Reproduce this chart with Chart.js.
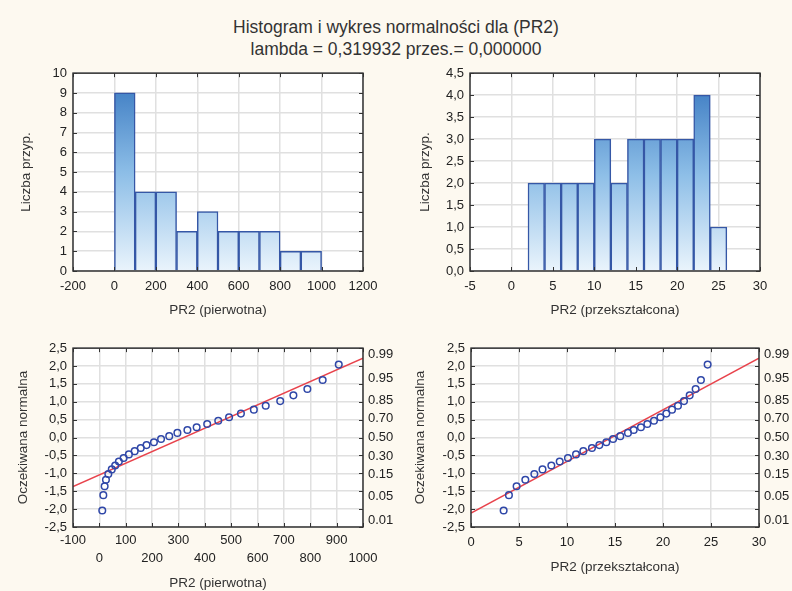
<!DOCTYPE html>
<html>
<head>
<meta charset="utf-8">
<script src="https://cdn.jsdelivr.net/npm/chart.js@4.4.1/dist/chart.umd.min.js"></script>
<style>
    html, body { margin: 0; padding: 0; }
    body { width: 792px; height: 591px; background: #fdf9f0; position: relative; overflow: hidden;
           font-family: "Liberation Sans", Arial, sans-serif; }
    #title { position: absolute; left: 0; top: 16px; width: 792px; text-align: center;
             font-size: 17.5px; line-height: 22px; color: #333; }
    .panel { position: absolute; width: 396px; }
</style>
</head>
<body>
<div id="title">Histogram i wykres normalności dla (PR2)<br>lambda = 0,319932 przes.= 0,000000</div>
<div class="panel" style="left:0;top:60px;height:275px"><canvas id="histRaw"></canvas></div>
<div class="panel" style="left:396px;top:60px;height:275px"><canvas id="histTr"></canvas></div>
<div class="panel" style="left:0;top:335px;height:256px"><canvas id="qqRaw"></canvas></div>
<div class="panel" style="left:396px;top:335px;height:256px"><canvas id="qqTr"></canvas></div>
<script>
// histogram bins (bin centers) and counts
const rawBinCenters = [50, 150, 250, 350, 450, 550, 650, 750, 850, 950];
const rawCounts = [9, 4, 4, 2, 3, 2, 2, 2, 1, 1];
const trBinCenters = [3, 5, 7, 9, 11, 13, 15, 17, 19, 21, 23, 25];
const trCounts = [2, 2, 2, 2, 3, 2, 3, 3, 3, 3, 4, 1];

// normal probability plots
const expectedNormal = [-2.04, -1.61, -1.36, -1.18, -1.02, -0.89, -0.78, -0.67, -0.57, -0.47,
    -0.38, -0.29, -0.21, -0.13, -0.04, 0.04, 0.13, 0.21, 0.29, 0.38,
    0.47, 0.57, 0.67, 0.78, 0.89, 1.02, 1.18, 1.36, 1.61, 2.04];
const rawValues = [11, 15, 20, 25, 34, 47, 60, 74, 92, 112, 134, 157, 179, 207, 234,
    265, 296, 334, 369, 409, 451, 492, 537, 586, 631, 686, 736, 789, 847, 908];
const trValues = [3.4, 3.95, 4.75, 5.66, 6.6, 7.45, 8.37, 9.24, 10.1, 10.94, 11.7, 12.6, 13.37, 14.1, 14.8,
    15.55, 16.35, 16.95, 17.7, 18.37, 19.06, 19.73, 20.35, 20.94, 21.56, 22.19, 22.78, 23.4, 23.95, 24.65];
const rawFitX = [-100, 1000];
const rawFitY = [-1.37, 2.22];
const trFitX = [0, 30];
const trFitY = [-2.11, 2.22];

// right axis of the probability plots
const probLabels = ['0.99', '0.95', '0.85', '0.70', '0.50', '0.30', '0.15', '0.05', '0.01'];
const probZ = [2.326, 1.645, 1.036, 0.524, 0, -0.524, -1.036, -1.645, -2.326];

const FONT = '"Liberation Sans", Arial, sans-serif';
const tickFont = {family: FONT, size: 13, lineHeight: 1.1};
const titleFont = {family: FONT, size: 13.5, lineHeight: 1.2};
const GRID = '#e0e0e0';
const comma = v => v.toFixed(1).replace('.', ',');

const frame = {
    id: 'frame',
    afterDraw(chart) {
        const {ctx, chartArea: a} = chart;
        const x = chart.scales.x, y = chart.scales.y;
        ctx.save();
        ctx.strokeStyle = '#333';
        ctx.lineWidth = 1;
        ctx.beginPath();
        x.ticks.forEach(t => {
            const px = Math.round(x.getPixelForValue(t.value)) + 0.5;
            ctx.moveTo(px, a.top); ctx.lineTo(px, a.top + 4);
            ctx.moveTo(px, a.bottom); ctx.lineTo(px, a.bottom - 4);
        });
        y.ticks.forEach(t => {
            const py = Math.round(y.getPixelForValue(t.value)) + 0.5;
            ctx.moveTo(a.left, py); ctx.lineTo(a.left + 4, py);
            ctx.moveTo(a.right, py); ctx.lineTo(a.right - 4, py);
        });
        ctx.stroke();
        ctx.lineWidth = 1.5;
        ctx.strokeRect(a.left, a.top, a.right - a.left, a.bottom - a.top);
        ctx.restore();
    }
};

const whiteArea = {
    id: 'whiteArea',
    beforeDraw(chart) {
        const {ctx, chartArea: a} = chart;
        ctx.save();
        ctx.fillStyle = '#ffffff';
        ctx.fillRect(a.left, a.top, a.right - a.left, a.bottom - a.top);
        ctx.restore();
    }
};

function barFill(maxCount) {
    return (context) => {
        const chart = context.chart;
        const area = chart.chartArea;
        if (!area) return '#9cc7ea';
        const top = chart.scales.y.getPixelForValue(maxCount);
        const g = chart.ctx.createLinearGradient(0, top, 0, area.bottom);
        g.addColorStop(0, '#4784c7');
        g.addColorStop(0.45, '#8dbee7');
        g.addColorStop(1, '#eaf4fc');
        return g;
    };
}

function yAxis(min, max, step, width, title, titlePad, fmt) {
    return {
        type: 'linear', position: 'left', min: min, max: max,
        afterFit: s => { s.width = width; },
        grid: {color: GRID, lineWidth: 1.5, drawTicks: false},
        border: {display: false},
        ticks: {stepSize: step, font: tickFont, color: '#222', padding: 6, autoSkip: false, callback: fmt},
        title: {display: true, text: title, font: titleFont, color: '#333', padding: {top: titlePad, bottom: 0}}
    };
}

function xAxis(min, max, step, height, title, tickPad, titlePad, fmt, lineHeight) {
    return {
        type: 'linear', position: 'bottom', min: min, max: max, offset: false,
        afterFit: s => { s.height = height; },
        grid: {color: GRID, lineWidth: 1.5, drawTicks: false, offset: false},
        border: {display: false},
        ticks: {stepSize: step, font: {family: FONT, size: 13, lineHeight: lineHeight || 1.2}, color: '#222',
            padding: tickPad, autoSkip: false, maxRotation: 0, callback: fmt},
        title: {display: true, text: title, font: titleFont, color: '#333', padding: {top: 0, bottom: titlePad}}
    };
}

function histogram(id, centers, counts, xScale, yScale, padRight) {
    new Chart(document.getElementById(id), {
        type: 'bar',
        data: {
            datasets: [{
                data: centers.map((c, i) => ({x: c, y: counts[i]})),
                backgroundColor: barFill(Math.max(...counts)),
                borderColor: '#3557a6',
                borderWidth: 1.5,
                barPercentage: 1,
                categoryPercentage: 1
            }]
        },
        options: {
            responsive: true, maintainAspectRatio: false, animation: false,
            layout: {padding: {top: 12, right: padRight, left: 0, bottom: 0}},
            plugins: {legend: {display: false}, tooltip: {enabled: false}},
            scales: {x: xScale, y: yScale}
        },
        plugins: [whiteArea, frame]
    });
}

function probPlot(id, values, fitX, fitY, xScale, yScale) {
    new Chart(document.getElementById(id), {
        type: 'scatter',
        data: {
            datasets: [{
                type: 'line',
                data: fitX.map((x, i) => ({x: x, y: fitY[i]})),
                borderColor: '#e8434c',
                borderWidth: 1.5,
                pointRadius: 0,
                order: 2
            }, {
                data: values.map((v, i) => ({x: v, y: expectedNormal[i]})),
                borderColor: '#2f47a8',
                backgroundColor: 'rgba(0,0,0,0)',
                borderWidth: 1.5,
                pointRadius: 3.3,
                order: 1
            }]
        },
        options: {
            responsive: true, maintainAspectRatio: false, animation: false,
            layout: {padding: {top: 10, right: 0, left: 0, bottom: 0}},
            plugins: {legend: {display: false}, tooltip: {enabled: false}},
            scales: {
                x: xScale,
                y: yScale,
                p: {
                    type: 'linear', position: 'right', min: -2.5, max: 2.5,
                    afterFit: s => { s.width = 33; },
                    afterBuildTicks: s => { s.ticks = probZ.map(v => ({value: v})); },
                    grid: {drawOnChartArea: false, drawTicks: false},
                    border: {display: false},
                    ticks: {font: tickFont, color: '#222', padding: 5, autoSkip: false,
                        callback: (v, i) => probLabels[i]}
                }
            }
        },
        plugins: [whiteArea, frame]
    });
}

histogram('histRaw', rawBinCenters, rawCounts,
    xAxis(-200, 1200, 200, 64, 'PR2 (pierwotna)', 8, 17),
    yAxis(0, 10, 1, 73, 'Liczba przyp.', 18), 33);

histogram('histTr', trBinCenters, trCounts,
    xAxis(-5, 30, 5, 64, 'PR2 (przekształcona)', 8, 17),
    yAxis(0, 4.5, 0.5, 74, 'Liczba przyp.', 21, comma), 32);

probPlot('qqRaw', rawValues, rawFitX, rawFitY,
    xAxis(-100, 1000, 100, 64, 'PR2 (pierwotna)', 5, 0,
        (v, i) => i % 2 === 0 ? [String(v), ''] : ['', String(v)], 1.36),
    yAxis(-2.5, 2.5, 0.5, 73, 'Oczekiwana normalna', 15, comma));

probPlot('qqTr', trValues, trFitX, trFitY,
    xAxis(0, 30, 5, 64, 'PR2 (przekształcona)', 8, 16),
    yAxis(-2.5, 2.5, 0.5, 75, 'Oczekiwana normalna', 16, comma));
</script>
</body>
</html>
